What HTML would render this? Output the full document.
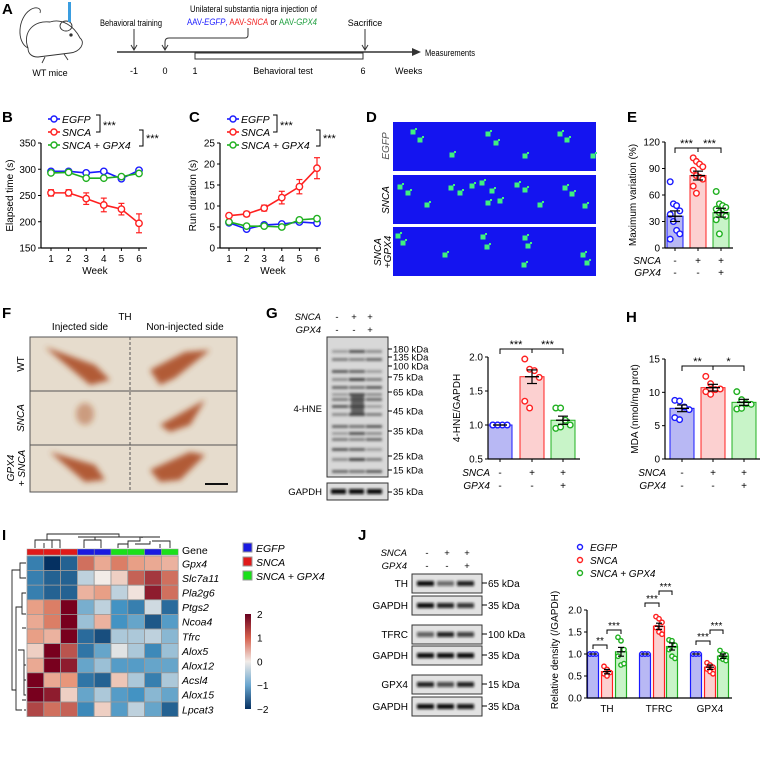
<!DOCTYPE html>
<html><head><meta charset="utf-8">
<style>
html,body{margin:0;padding:0;background:#fff;}
svg{display:block;font-family:"Liberation Sans",Arial,sans-serif;}
.it{font-style:italic}
.pl{font-weight:bold;font-size:15px}
</style></head>
<body>
<svg id="fig" width="764" height="773" viewBox="0 0 764 773" xmlns="http://www.w3.org/2000/svg">
<defs>
<filter id="blur1" x="-20%" y="-50%" width="140%" height="200%"><feGaussianBlur stdDeviation="1.2"/></filter>
<filter id="blur3" x="-30%" y="-30%" width="160%" height="160%"><feGaussianBlur stdDeviation="3"/></filter>
<linearGradient id="cbar" x1="0" y1="0" x2="0" y2="1">
<stop offset="0" stop-color="#67001f"/><stop offset="0.25" stop-color="#d6604d"/><stop offset="0.5" stop-color="#f2ece8"/><stop offset="0.75" stop-color="#6aa6cf"/><stop offset="1" stop-color="#053061"/>
</linearGradient>
</defs>

<!-- Panel A -->
<g font-size="9">
<text x="2" y="14" class="pl">A</text>
<g fill="none" stroke="#333" stroke-width="0.9">
<path d="M28 48 C22 32 34 20 50 22 C62 18 74 26 80 38 C86 43 80 52 70 53 L38 57 C31 57 28 53 28 48Z"/>
<path d="M28 48 C16 42 18 18 30 10 C36 6 42 8 40 13"/>
<ellipse cx="66" cy="26" rx="6" ry="5"/><circle cx="71" cy="35" r="1.2" fill="#333"/>
<path d="M45 57 L42 63 M64 54 L68 60"/>
</g>
<rect x="68" y="2" width="3" height="20" fill="#3a9de0"/>
<text x="50" y="76" text-anchor="middle">WT mice</text>
<line x1="117" y1="52" x2="414" y2="52" stroke="#333" stroke-width="1.5"/>
<path d="M412 48 L421 52 L412 56Z" fill="#333"/>
<text x="425" y="56" textLength="50" lengthAdjust="spacingAndGlyphs">Measurements</text>
<text x="100" y="26" textLength="62" lengthAdjust="spacingAndGlyphs">Behavioral training</text>
<line x1="134" y1="29" x2="134" y2="49" stroke="#333"/><path d="M131 45 L134 50 L137 45" fill="none" stroke="#333"/>
<text x="190" y="12" textLength="127" lengthAdjust="spacingAndGlyphs">Unilateral substantia nigra injection of</text>
<text x="187" y="25" textLength="130" lengthAdjust="spacingAndGlyphs"><tspan fill="#2020ff">AAV-</tspan><tspan fill="#2020ff" class="it">EGFP</tspan><tspan fill="#2020ff">, </tspan><tspan fill="#f02020">AAV-</tspan><tspan fill="#f02020" class="it">SNCA</tspan> or <tspan fill="#20a040">AAV-</tspan><tspan fill="#20a040" class="it">GPX4</tspan></text>
<path d="M248 28 L248 35 Q248 38 245 38 L169 38 Q165 38 165 42 L165 49" fill="none" stroke="#333"/><path d="M162 45 L165 50 L168 45" fill="none" stroke="#333"/>
<text x="365" y="26" text-anchor="middle">Sacrifice</text>
<line x1="365" y1="29" x2="365" y2="49" stroke="#333"/><path d="M362 45 L365 50 L368 45" fill="none" stroke="#333"/>
<rect x="195" y="53" width="168" height="6" fill="none" stroke="#333"/>
<text x="283" y="74" text-anchor="middle">Behavioral test</text>
<text x="134" y="74" text-anchor="middle">-1</text><text x="165" y="74" text-anchor="middle">0</text><text x="195" y="74" text-anchor="middle">1</text><text x="363" y="74" text-anchor="middle">6</text>
<text x="395" y="74">Weeks</text>
</g>

<g id="charts"></g>

<!-- Panel D -->
<g>
<text x="366" y="122" class="pl">D</text>
<rect x="393" y="122" width="203" height="49" fill="#1414f0"/>
<rect x="393" y="175" width="203" height="49" fill="#1414f0"/>
<rect x="393" y="227" width="203" height="49" fill="#1414f0"/>
<g fill="#40f080" id="paws"></g>
<text transform="translate(389,146) rotate(-90)" text-anchor="middle" font-size="10" class="it" fill="#555">EGFP</text>
<text transform="translate(389,200) rotate(-90)" text-anchor="middle" font-size="10" class="it">SNCA</text>
<text transform="translate(381,252) rotate(-90)" text-anchor="middle" font-size="10" class="it">SNCA</text>
<text transform="translate(391,252) rotate(-90)" text-anchor="middle" font-size="10" class="it">+GPX4</text>
</g>

<!-- Panel F -->
<g font-size="10">
<text x="2" y="318" class="pl">F</text>
<text x="125" y="320" text-anchor="middle">TH</text>
<text x="80" y="330" text-anchor="middle">Injected side</text>
<text x="185" y="330" text-anchor="middle">Non-injected side</text>
<rect x="30" y="337" width="207" height="155" fill="#e6dccd" stroke="#555"/>
<g filter="url(#blur3)" fill="#a8451a" opacity="0.85">
<path d="M45 347 L95 365 L110 380 L90 385 Z"/><path d="M150 370 L185 352 L210 350 L175 378 L160 385Z"/>
<ellipse cx="85" cy="414" rx="9" ry="11" opacity="0.5"/><path d="M160 425 L205 400 L190 425 L170 432Z"/>
<path d="M50 452 L95 465 L105 480 L85 482 Z"/><path d="M150 470 L190 452 L205 455 L180 480 L160 482Z"/>
</g>
<line x1="30" y1="391" x2="237" y2="391" stroke="#555"/><line x1="30" y1="445" x2="237" y2="445" stroke="#555"/>
<line x1="130" y1="337" x2="130" y2="492" stroke="#555" stroke-dasharray="3,2"/>
<line x1="205" y1="484" x2="228" y2="484" stroke="#111" stroke-width="2"/>
<text transform="translate(24,364) rotate(-90)" text-anchor="middle">WT</text>
<text transform="translate(24,418) rotate(-90)" text-anchor="middle" class="it">SNCA</text>
<text transform="translate(14,468) rotate(-90)" text-anchor="middle" class="it">GPX4</text>
<text transform="translate(25,468) rotate(-90)" text-anchor="middle"><tspan>+ </tspan><tspan class="it">SNCA</tspan></text>
</g>

<!-- Panel G blot -->
<g font-size="9.5">
<text x="266" y="318" class="pl">G</text>
<text x="321" y="320" text-anchor="end" class="it">SNCA</text><text x="321" y="333" text-anchor="end" class="it">GPX4</text>
<text x="337" y="320" text-anchor="middle">-</text><text x="354" y="320" text-anchor="middle">+</text><text x="370" y="320" text-anchor="middle">+</text>
<text x="337" y="333" text-anchor="middle">-</text><text x="354" y="333" text-anchor="middle">-</text><text x="370" y="333" text-anchor="middle">+</text>
<rect x="327" y="337" width="61" height="140" fill="#d8d8d8" stroke="#333"/>
<g filter="url(#blur1)" fill="#333" id="hneBands"></g>
<rect x="327" y="483" width="61" height="17" fill="#ddd" stroke="#333"/>
<g filter="url(#blur1)" fill="#111"><rect x="331" y="489" width="15" height="5"/><rect x="349" y="489" width="15" height="5"/><rect x="367" y="489" width="15" height="5"/></g>
<text x="322" y="412" text-anchor="end">4-HNE</text><text x="322" y="495" text-anchor="end">GAPDH</text>
<g id="gkda"></g>
</g>

<!-- Panel I -->
<g font-size="10">
<text x="2" y="540" class="pl">I</text>
<g id="heat"></g>
</g>

<!-- Panel J blot -->
<g font-size="9.5">
<text x="358" y="540" class="pl">J</text>
<text x="407" y="556" text-anchor="end" class="it">SNCA</text><text x="407" y="569" text-anchor="end" class="it">GPX4</text>
<text x="427" y="556" text-anchor="middle">-</text><text x="447" y="556" text-anchor="middle">+</text><text x="467" y="556" text-anchor="middle">+</text>
<text x="427" y="569" text-anchor="middle">-</text><text x="447" y="569" text-anchor="middle">-</text><text x="467" y="569" text-anchor="middle">+</text>
<g id="jblots"></g>
</g>
</svg>
<script>
// ---------- data ----------
const weeks = [1,2,3,4,5,6];
const bEgfp = [296,296,293,296,282,298];
const bSnca = [255,255,244,232,224,197];
const bSncaErr = [6,6,11,13,11,18];
const bGpx4 = [293,294,283,283,286,292];
const cEgfp = [6.0,4.5,5.5,5.7,6.2,5.9];
const cSnca = [7.7,8.1,9.5,12.0,14.6,19.0];
const cSncaErr = [0.5,0.6,0.7,1.5,1.7,2.5];
const cGpx4 = [6.2,5.2,5.2,5.0,6.7,7.0];
const eMeans = [36,82,40];
const eErr = [6,5,5];
const eDotsEgfp = [75,50,48,42,38,30,20,16,10];
const eDotsSnca = [102,98,95,92,88,82,80,78,70,62];
const eDotsGpx4 = [64,50,48,46,44,40,38,36,32,16];
const gMeans = [1.0,1.71,1.07];
const gErr = [0,0.1,0.06];
const gDots = [[1,1,1,1,1,1],[1.97,1.82,1.8,1.7,1.35,1.25],[1.25,1.25,1.07,1.0,0.95,0.97]];
const hMeans = [7.6,10.7,8.5];
const hErr = [0.5,0.5,0.45];
const hDots = [[8.8,8.7,7.8,7.4,6.2,5.9],[12.4,11.3,10.4,10.5,10.1,9.7],[10.1,8.9,8.3,8.2,7.5,7.6]];
const jCats = ["TH","TFRC","GPX4"];
const jMeans = [[1,0.6,1.05],[1,1.63,1.17],[1,0.7,0.95]];
const jErr = [[0,0.05,0.1],[0,0.07,0.08],[0,0.05,0.05]];
const jDots = [[[1,1,1,1,1],[0.72,0.65,0.58,0.55,0.5],[1.38,1.3,1.1,0.95,0.75,0.78]],[[1,1,1,1,1],[1.85,1.8,1.72,1.6,1.5,1.45],[1.32,1.3,1.2,1.1,0.95,0.9]],[[1,1,1,1,1],[0.8,0.75,0.7,0.66,0.6,0.55],[1.08,1.0,0.98,0.92,0.88,0.85]]];
const genes = ["Gpx4","Slc7a11","Pla2g6","Ptgs2","Ncoa4","Tfrc","Alox5","Alox12","Acsl4","Alox15","Lpcat3"];
const sampleGroups = [1,1,1,0,0,2,2,0,2];
const heatVals = [
[-1.2,-2,-1.5,1.2,0.7,1.1,0.8,0.7,0.6],
[-1.2,-1.5,-1.5,-0.3,0,0.3,1.3,1.6,1.2],
[-1.2,-1.5,-1.5,0.6,0.8,-0.3,0.1,1.8,1.2],
[0.8,1.1,2.4,-0.7,-0.3,-1,-1.2,-0.2,-1.4],
[0.7,1.1,2.1,-0.5,0.6,-1,-0.8,-1.6,-0.9],
[0.8,0.6,2.5,-1.4,-1.7,-0.4,-0.4,-0.3,-0.6],
[0.3,2.2,1.4,-1.3,-0.8,-0.1,-0.4,-1.1,-0.5],
[0.7,2,1.8,-0.8,-0.5,-0.9,-0.9,-0.8,-0.8],
[2.3,0.7,0.9,-1.3,-1.5,0.4,-0.4,-1.2,-0.4],
[2.1,1.8,0.3,-0.8,-0.4,-0.9,-1.0,-0.6,-0.8],
[1.5,1.2,1.3,-1.1,0.3,-0.9,-0.3,-0.8,-1.5]];
const bTicks = [150,200,250,300,350];
const cTicks = [0,5,10,15,20,25];
const eTicks = [0,30,60,90,120];
const gTicks = [0.5,1.0,1.5,2.0];
const hTicks = [0,5,10,15];
const jTicks = [0,0.5,1.0,1.5,2.0];

// ---------- helpers ----------
const NS="http://www.w3.org/2000/svg";
const root=document.getElementById('charts');
function mk(tag,attrs,parent){const e=document.createElementNS(NS,tag);for(const k in attrs)e.setAttribute(k,attrs[k]);(parent||root).appendChild(e);return e;}
function txt(s,attrs,parent){const e=mk('text',attrs,parent);e.textContent=s;return e;}
function lin(d0,d1,r0,r1){return v=>r0+(v-d0)*(r1-r0)/(d1-d0);}
const COL=["#1a1aff","#ff2020","#20b020"];
const FILL=["#b8b8f4","#fcd0d0","#c8f4c8"];
const FS=10;
function yAxis(x,y,ticks,fmt,title,tx,ty){
  const a=mk('line',{x1:x,y1:y(ticks[0]),x2:x,y2:y(ticks[ticks.length-1]),stroke:'#000','stroke-width':1.2});
  
  
  ticks.forEach(t=>{mk('line',{x1:x-3,y1:y(t),x2:x,y2:y(t),stroke:'#000'});
    const l=txt(fmt(t),{x:x-5,y:y(t)+3.5,'text-anchor':'end','font-size':FS});
    
    });
  const t=txt(title,{transform:`translate(${tx},${ty}) rotate(-90)`,'text-anchor':'middle','font-size':FS});
  
  
}
function circ(cx,cy,c,r){const e=mk('circle',{cx,cy,r:r||3,fill:'#fff',stroke:c,'stroke-width':1.4});return e;}
function errbar(x,y1,y2,w,c){mk('line',{x1:x,y1:y1,x2:x,y2:y2,stroke:c,'stroke-width':1.2});mk('line',{x1:x-w,y1:y1,x2:x+w,y2:y1,stroke:c,'stroke-width':1.2});mk('line',{x1:x-w,y1:y2,x2:x+w,y2:y2,stroke:c,'stroke-width':1.2});}

// ---------- line charts B and C ----------
function lineChart(label,lx,ly,xB,ax0,x1px,x6px,y0,y1,ticks,series,errs,title,tx,legX,br1,br2){
  txt(label,{x:lx,y:ly,'font-weight':'bold','font-size':15});
  const x=lin(1,6,x1px,x6px); const y=lin(ticks[0],ticks[ticks.length-1],y0,y1);
  const xa=mk('line',{x1:ax0,y1:y0,x2:xB,y2:y0,stroke:'#000','stroke-width':1.2});
  
  
  weeks.forEach(w=>{mk('line',{x1:x(w),y1:y0,x2:x(w),y2:y0+3,stroke:'#000'});txt(String(w),{x:x(w),y:y0+14,'text-anchor':'middle','font-size':FS});});
  const wt=txt('Week',{x:(x1px+x6px)/2,y:y0+26,'text-anchor':'middle','font-size':FS});
  
  
  yAxis(ax0,y,ticks,String,title,tx,(y0+y1)/2);
  const order=[0,2,1];
  order.forEach(si=>{const s=series[si];const c=COL[si];
    if(errs[si]) weeks.forEach((w,i)=>errbar(x(w),y(s[i]-errs[si][i]),y(s[i]+errs[si][i]),3,c));
    const p=mk('polyline',{points:weeks.map((w,i)=>x(w)+','+y(s[i])).join(' '),fill:'none',stroke:c,'stroke-width':1.6});
    
    
    weeks.forEach((w,i)=>{const m=circ(x(w),y(s[i]),c,3.2);
      
      });
  });
  const names=['EGFP','SNCA','SNCA + GPX4'];
  [119,132,145].forEach((yy,i)=>{mk('line',{x1:legX-6,y1:yy,x2:legX+6,y2:yy,stroke:COL[i],'stroke-width':1.6});circ(legX,yy,COL[i],3);
    const t=txt(names[i],{x:legX+8,y:yy+4,'font-size':10.5,'font-style':'italic'});
    
    });
  mk('path',{d:`M${br1-4} 115 L${br1} 115 L${br1} 132 L${br1-4} 132`,fill:'none',stroke:'#000'});
  txt('***',{x:br1+3,y:129,'font-size':11});
  mk('path',{d:`M${br2-4} 130 L${br2} 130 L${br2} 146 L${br2-4} 146`,fill:'none',stroke:'#000'});
  txt('***',{x:br2+3,y:142,'font-size':11});
}
lineChart('B',2,122,147,41,51,139,248,143,bTicks,[bEgfp,bSnca,bGpx4],[null,bSncaErr,null],'Elapsed time (s)',13,54,100,143);
lineChart('C',189,122,321,220,229,317,248,143,cTicks,[cEgfp,cSnca,cGpx4],[null,cSncaErr,null],'Run duration (s)',196,233,277,320);

// ---------- bar chart helper ----------
function barChart(xAxis0,xAxis1,xs,bw,y0,y1,ticks,fmt,means,errs,dots,title,tx,rowY,rowX){
  const y=lin(ticks[0],ticks[ticks.length-1],y0,y1);
  means.forEach((m,i)=>{const b=mk('rect',{x:xs[i]-bw/2,y:y(m),width:bw,height:y0-y(m),fill:FILL[i],stroke:COL[i],'stroke-width':1});
    
    });
  dots.forEach((ds,i)=>{ds.forEach((d,j)=>{const off=((j%4)-1.5)*bw/5;const c=circ(xs[i]+off,y(d),COL[i],2.8);
    
    });});
  means.forEach((m,i)=>{if(errs[i]>0)errbar(xs[i],y(m-errs[i]),y(m+errs[i]),5,'#000');mk('line',{x1:xs[i]-7,y1:y(m),x2:xs[i]+7,y2:y(m),stroke:'#000','stroke-width':1.4});});
  const xa=mk('line',{x1:xAxis0,y1:y0,x2:xAxis1,y2:y0,stroke:'#000','stroke-width':1.2});
  
  
  xs.forEach(x=>mk('line',{x1:x,y1:y0,x2:x,y2:y0+3,stroke:'#000'}));
  yAxis(xAxis0,y,ticks,fmt,title,tx,(y0+y1)/2);
  if(rowY){const sg=[['-','+','+'],['-','-','+']];
    ['SNCA','GPX4'].forEach((n,r)=>{txt(n,{x:rowX,y:rowY[r],'text-anchor':'end','font-size':FS,'font-style':'italic'});
      xs.forEach((x,i)=>txt(sg[r][i],{x:x,y:rowY[r],'text-anchor':'middle','font-size':FS}));});}
  return y;
}
function sig(x1,x2,xm,yy,s1,s2){mk('path',{d:`M${x1} ${yy+5} L${x1} ${yy} L${x2} ${yy} L${x2} ${yy+5} M${xm} ${yy} L${xm} ${yy+4}`,fill:'none',stroke:'#000'});
  txt(s1,{x:(x1+xm)/2,y:yy-1,'text-anchor':'middle','font-size':11});txt(s2,{x:(xm+x2)/2,y:yy-1,'text-anchor':'middle','font-size':11});}

// E
txt('E',{x:627,y:122,'font-weight':'bold','font-size':15});
barChart(665,733,[675,698,721],16,248,142,eTicks,String,eMeans,eErr,[eDotsEgfp,eDotsSnca,eDotsGpx4],'Maximum variation (%)',636,[264,276],661);
sig(675,721,698,148,'***','***');
// G chart
barChart(488,580,[500,532,563],24,459,357,gTicks,v=>v.toFixed(1),gMeans,gErr,gDots,'4-HNE/GAPDH',460,[476,489],490);
sig(500,563,532,349,'***','***');
// H
txt('H',{x:626,y:322,'font-weight':'bold','font-size':15});
barChart(665,760,[682,713,744],24,459,359,hTicks,String,hMeans,hErr,hDots,'MDA (nmol/mg prot)',638,[476,489],666);
sig(682,744,713,366,'**','*');

// J chart
(function(){
  const y0=698,y1=610,x0=587;
  const y=lin(0,2,y0,y1);
  const gx=[[593,607,621],[645,659,672],[696,710,723]];
  jCats.forEach((c,ci)=>{
    jMeans[ci].forEach((m,i)=>{const b=mk('rect',{x:gx[ci][i]-5.5,y:y(m),width:11,height:y0-y(m),fill:FILL[i],stroke:COL[i],'stroke-width':1.2});
      
      
      jDots[ci][i].forEach((d,j)=>{const c2=circ(gx[ci][i]+((j%3)-1)*3,y(d),COL[i],2.2);
        
        });
      if(jErr[ci][i]>0)errbar(gx[ci][i],y(m-jErr[ci][i]),y(m+jErr[ci][i]),3,'#000');
      mk('line',{x1:gx[ci][i]-4,y1:y(m),x2:gx[ci][i]+4,y2:y(m),stroke:'#000','stroke-width':1.2});
    });
    const l=txt(c,{x:gx[ci][1],y:y0+14,'text-anchor':'middle','font-size':FS});
    
    
  });
  const xa=mk('line',{x1:x0,y1:y0,x2:732,y2:y0,stroke:'#000','stroke-width':1.2});
  
  
  yAxis(x0,y,jTicks,v=>v.toFixed(1),'Relative density (/GAPDH)',558,650);
  function br(a,b,yy,s){mk('path',{d:`M${a} ${yy+4} L${a} ${yy} L${b} ${yy} L${b} ${yy+4}`,fill:'none',stroke:'#000'});txt(s,{x:(a+b)/2,y:yy-1,'text-anchor':'middle','font-size':10});}
  br(593,607,645,'**');br(607,621,630,'***');br(645,659,603,'***');br(659,672,591,'***');br(696,710,641,'***');br(710,723,630,'***');
  const ln=['EGFP','SNCA','SNCA + GPX4'];
  [547,560,573].forEach((yy,i)=>{circ(580,yy,COL[i],2.5);const t=txt(ln[i],{x:590,y:yy+4,'font-size':10,'font-style':'italic'});
    
    });
})();

// ---------- G kDa + 4-HNE bands ----------
(function(){
  const gk=document.getElementById('gkda');
  const kd=[['180',349],['135',357],['100',366],['75',377],['65',392],['45',411],['35',431],['25',456],['15',470]];
  kd.forEach(k=>{mk('line',{x1:388,y1:k[1],x2:392,y2:k[1],stroke:'#000'},gk);txt(k[0]+' kDa',{x:393,y:k[1]+3.5,'font-size':9.5},gk);});
  mk('line',{x1:388,y1:492,x2:392,y2:492,stroke:'#000'},gk);txt('35 kDa',{x:393,y:495,'font-size':9.5},gk);
  const hb=document.getElementById('hneBands');
  const bandY=[350,358,370,378,386,393,398,405,413,425,432,438,448,458,470];
  const lanes=[333,350,367];
  bandY.forEach((by,i)=>lanes.forEach((lx,l)=>{mk('rect',{x:lx-1,y:by,width:16,height:3,opacity:(0.35+((i*7+l*3)%5)*0.1)+(l===1?0.15:0)},hb);}));
  mk('rect',{x:351,y:395,width:13,height:18,opacity:0.7},hb);
})();

// ---------- J blots ----------
(function(){
  const g=document.getElementById('jblots');
  const blots=[['TH',574,'65 kDa',[1,0.55,0.9]],['GAPDH',596,'35 kDa',[1,0.9,0.8]],['TFRC',625,'100 kDa',[0.6,0.9,0.75]],['GAPDH',646,'35 kDa',[1,1,1]],['GPX4',675,'15 kDa',[0.9,0.7,0.9]],['GAPDH',697,'35 kDa',[1,1,0.95]]];
  blots.forEach(b=>{const r=mk('rect',{x:412,y:b[1],width:70,height:19,fill:'#e2e2e2',stroke:'#333'},g);
    
    
    b[3].forEach((o,i)=>mk('rect',{x:417+i*20,y:b[1]+7,width:17,height:5,fill:'#111',opacity:o,filter:'url(#blur1)'},g));
    txt(b[0],{x:408,y:b[1]+13,'text-anchor':'end','font-size':10},g);
    mk('line',{x1:482,y1:b[1]+9,x2:487,y2:b[1]+9,stroke:'#000'},g);
    txt(b[2],{x:488,y:b[1]+13,'font-size':10},g);});
})();

// ---------- Heatmap ----------
(function(){
  const g=document.getElementById('heat');
  const x0=27,cw=16.8,y0=556,rh=14.6;
  const stops=[[-2,[5,48,97]],[-1,[67,147,195]],[0,[242,236,232]],[1,[230,140,110]],[2,[120,0,30]]];
  function col(v){v=Math.max(-2,Math.min(2,v));for(let i=0;i<4;i++){if(v<=stops[i+1][0]){const t=(v-stops[i][0]);const a=stops[i][1],b=stops[i+1][1];return 'rgb('+a.map((c,k)=>Math.round(c+(b[k]-c)*t)).join(',')+')';}}return 'rgb(120,0,30)';}
  const gc=['#1a1ae0','#e01a1a','#1ae01a'];
  sampleGroups.forEach((s,j)=>{const a=mk('rect',{x:x0+j*cw,y:549,width:cw,height:6,fill:gc[s],stroke:'#999','stroke-width':0.5},g);
    
    });
  heatVals.forEach((row,i)=>{row.forEach((v,j)=>{const c=mk('rect',{x:x0+j*cw,y:y0+i*rh,width:cw,height:rh,fill:col(v),stroke:'#999','stroke-width':0.8},g);
      
      });
    const l=txt(genes[i],{x:182,y:y0+i*rh+rh/2+4,'font-size':10.5,'font-style':'italic'},g);
    
    });
  txt('Gene',{x:182,y:554,'font-size':10.5},g);
  mk('path',{d:'M35 548 L35 540 L60 540 L60 548 M47 540 L47 534 L119 534 L119 537 M52 548 L52 540 M44 548 L44 543 M95 537 L95 540 M84 548 L84 540 L101 540 L101 548 M142 537 L142 538 M78 537 L160 537 M140 537 L140 541 L128 541 L128 548 L128 544 L118 544 L118 548 M150 541 L150 544 L135 544 M160 544 L160 548 M152 541 L170 541 L170 548',fill:'none',stroke:'#222','stroke-width':0.9},g);
  mk('path',{d:'M26 563 L20 563 L20 578 L26 578 M20 570 L12 570 L12 690 L16 690 M26 593 L22 593 L22 607 L16 607 L16 710 L22 710 M22 600 L22 614 L26 614 M22 628 L26 628 M18 650 L24 650 L24 695 L26 695 M24 665 L26 665 M24 680 L26 680 M24 710 L26 710 M22 700 L26 700',fill:'none',stroke:'#222','stroke-width':0.9},g);
  const ln=['EGFP','SNCA','SNCA + GPX4'];
  [548,562,576].forEach((yy,i)=>{mk('rect',{x:243,y:yy-5,width:9,height:9,fill:gc[i],stroke:'#999'},g);const t=txt(ln[i],{x:256,y:yy+4,'font-size':10.5,'font-style':'italic'},g);
    
    });
  const cb=mk('rect',{x:245,y:614,width:6,height:95,fill:'url(#cbar)'},g);
  
  
  ['2','1','0','\u22121','\u22122'].forEach((s,i)=>txt(s,{x:257,y:618+i*23.7,'font-size':10},g));
})();

// ---------- paw prints ----------
(function(){
  const g=document.getElementById('paws');
  const rows=[[[413,132],[420,140],[452,155],[488,134],[496,143],[525,156],[560,134],[567,140],[593,156]],
              [[400,187],[408,193],[427,205],[451,188],[460,193],[472,186],[482,183],[492,191],[488,203],[500,201],[517,185],[525,190],[540,205],[565,188],[572,194],[585,206]],
              [[398,236],[403,243],[445,255],[483,237],[487,247],[525,238],[528,246],[524,265],[583,255],[587,263]]];
  rows.forEach(r=>r.forEach(p=>{mk('rect',{x:p[0]-2.5,y:p[1]-2.5,width:5,height:5,fill:'#40f080'},g);mk('rect',{x:p[0]+2,y:p[1]-4,width:2,height:2,fill:'#40f080'},g);}));
})();
</script>
</body></html>
